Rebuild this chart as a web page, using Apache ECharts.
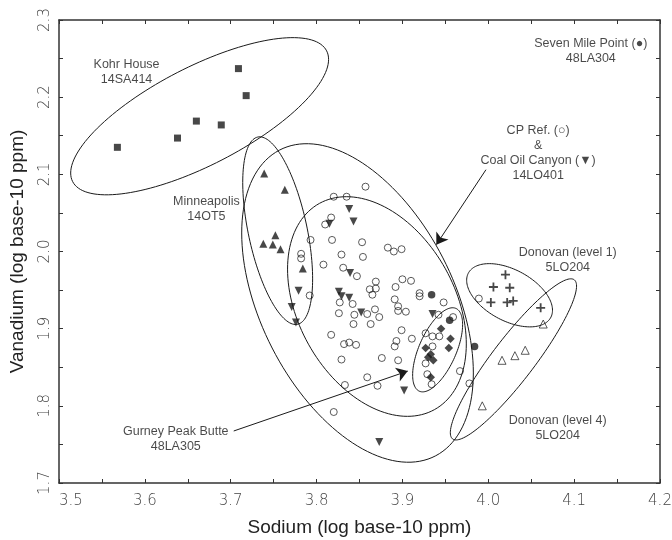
<!DOCTYPE html>
<html><head><meta charset="utf-8">
<script src="https://cdn.jsdelivr.net/npm/echarts@6/dist/echarts.min.js"></script>
<style>html,body{margin:0;padding:0;background:#fff}#c{width:672px;height:540px}</style>
</head><body><div id="c"></div>
<script>
// ---- data (log base-10 ppm) ----
const kohrHouse = [[3.568,2.135],[3.638,2.147],[3.660,2.169],[3.689,2.164],[3.709,2.237],[3.718,2.202]];
const minneapolis = [[3.739,2.101],[3.763,2.080],[3.752,2.021],[3.738,2.010],[3.749,2.009],[3.758,2.003],[3.784,1.978]];
const coalOilCanyon = [[3.838,2.055],[3.843,2.039],[3.815,2.036],[3.839,1.972],[3.779,1.949],[3.826,1.948],[3.829,1.942],[3.838,1.940],[3.771,1.928],[3.776,1.908],[3.852,1.921],[3.935,1.919],[3.902,1.820],[3.873,1.753]];
const cpRef = [[3.857,2.084],[3.820,2.071],[3.835,2.071],[3.817,2.044],[3.810,2.035],[3.793,2.015],[3.818,2.015],[3.853,2.012],[3.883,2.005],[3.890,2.000],[3.899,2.003],[3.829,1.996],[3.854,1.993],[3.782,1.997],[3.782,1.991],[3.808,1.983],[3.831,1.979],[3.847,1.968],[3.869,1.961],[3.900,1.964],[3.910,1.962],[3.892,1.954],[3.862,1.951],[3.869,1.952],[3.865,1.944],[3.792,1.943],[3.920,1.946],[3.920,1.942],[3.891,1.938],[3.827,1.934],[3.842,1.932],[3.895,1.929],[3.895,1.923],[3.904,1.922],[3.868,1.925],[3.826,1.920],[3.844,1.918],[3.859,1.919],[3.873,1.915],[3.948,1.934],[3.942,1.918],[3.843,1.906],[3.863,1.906],[3.899,1.898],[3.817,1.892],[3.927,1.894],[3.935,1.890],[3.943,1.890],[3.911,1.887],[3.832,1.880],[3.838,1.882],[3.846,1.879],[3.893,1.884],[3.891,1.877],[3.935,1.877],[3.829,1.860],[3.876,1.862],[3.895,1.859],[3.927,1.855],[3.967,1.845],[3.859,1.837],[3.833,1.827],[3.871,1.826],[3.929,1.841],[3.934,1.828],[3.978,1.829],[3.820,1.792],[3.989,1.939],[3.959,1.915]];
const sevenMilePoint = [[3.934,1.944],[3.955,1.911],[3.984,1.877]];
const gurneyPeakButte = [[3.945,1.900],[3.956,1.887],[3.954,1.875],[3.927,1.875],[3.933,1.867],[3.936,1.859],[3.930,1.863],[3.933,1.837]];
const donovanLevel1 = [[4.020,1.970],[4.006,1.954],[4.025,1.953],[4.003,1.934],[4.022,1.934],[4.029,1.936],[4.061,1.927]];
const donovanLevel4 = [[4.064,1.906],[4.043,1.872],[4.031,1.865],[4.016,1.859],[3.993,1.800]];

// group ellipses: centre x, centre y, conjugate half-axis vectors (a, b) in data units
const ellipses = [
  [3.6638,2.1753, 0.1502,0.0736, 0,-0.0704],   // Kohr House
  [3.7547,2.0270, 0.0407,-0.0625, 0,-0.1043],  // Minneapolis
  [3.8477,1.9333, 0.1349,-0.0907, 0,-0.1854],  // CP Ref + Coal Oil Canyon (outer)
  [3.8703,1.9287, 0.1041,-0.0485, 0,-0.1338],  // CP Ref (inner)
  [3.9410,1.8726, 0.0291,0.0327, 0,-0.0436],   // Gurney Peak Butte
  [4.0248,1.9433, 0.0500,-0.0194, 0,-0.0361],  // Donovan level 1
  [4.0293,1.8602, 0.0735,0.0950, 0,-0.0433]    // Donovan level 4
];

const annotations = [
  {name:'Kohr House\n14SA414', value:[3.5787,2.2321]},
  {name:'Minneapolis\n14OT5', value:[3.6717,2.0546]},
  {name:'Seven Mile Point (\u25CF)\n48LA304', value:[4.1194,2.2595]},
  {name:'CP Ref. (\u25CB)\n&\nCoal Oil Canyon (\u25BC)\n14LO401', value:[4.0581,2.1280]},
  {name:'Donovan (level 1)\n5LO204', value:[4.0926,1.9891]},
  {name:'Donovan (level 4)\n5LO204', value:[4.0808,1.7710]},
  {name:'Gurney Peak Butte\n48LA305', value:[3.6360,1.7573]}
];

const arrows = [
  [[3.9973,2.1060],[3.9395,2.0089]],
  [[3.7035,1.7674],[3.9062,1.8450]]
];

const xTicks = {min:3.5, max:4.2, step:0.1};
const yTicks = {min:1.7, max:2.3, step:0.1};

// ---- chart ----
const ink = '#1a1a1a';
const axisCommon = {
  type:'value',
  splitLine:{show:false},
  axisLine:{show:true, onZero:false, lineStyle:{color:'#333', width:1.5}},
  axisTick:{show:true, inside:true, length:4, lineStyle:{color:'#333', width:1}},
  minorTick:{show:true, splitNumber:2, length:4, lineStyle:{color:'#333', width:1}},
  minorSplitLine:{show:false}
};
const lbl = {fontFamily:'DejaVu Sans', fontSize:15, color:'#444', fontWeight:'lighter'};

const chart = echarts.init(document.getElementById('c'), null, {renderer:'canvas'});
chart.setOption({
  animation:false,
  backgroundColor:'#fff',
  grid:{left:59, right:12, top:20, bottom:57, containLabel:false, outerBoundsMode:'none'},
  xAxis:[
    Object.assign({}, axisCommon, {position:'bottom', min:xTicks.min, max:xTicks.max, interval:xTicks.step,
      name:'Sodium (log base-10 ppm)', nameLocation:'middle', nameGap:35,
      nameTextStyle:{fontFamily:'Liberation Sans', fontSize:19, color:'#222'},
      axisLabel:Object.assign({show:true, margin:11, formatter:v=>v.toFixed(1), showMinLabel:true, showMaxLabel:true, alignMinLabel:'left'}, lbl)}),
    Object.assign({}, axisCommon, {position:'top', min:xTicks.min, max:xTicks.max, interval:xTicks.step, axisLabel:{show:false}})
  ],
  yAxis:[
    Object.assign({}, axisCommon, {position:'left', min:yTicks.min, max:yTicks.max, interval:yTicks.step,
      name:'Vanadium (log base-10 ppm)', nameLocation:'middle', nameGap:32, nameRotate:90,
      nameTextStyle:{fontFamily:'Liberation Sans', fontSize:19, color:'#222'},
      axisLabel:Object.assign({show:true, margin:6, rotate:90, formatter:v=>v.toFixed(1), showMinLabel:true, showMaxLabel:true}, lbl)}),
    Object.assign({}, axisCommon, {position:'right', min:yTicks.min, max:yTicks.max, interval:yTicks.step, axisLabel:{show:false}})
  ],
  series:[
    {
      type:'custom', name:'ellipses', data:ellipses, silent:true, z:1,
      encode:{x:0, y:1},
      renderItem:function(params, api){
        const cx=api.value(0), cy=api.value(1), ax=api.value(2), ay=api.value(3), bx=api.value(4), by=api.value(5);
        const pts=[];
        for(let i=0;i<=144;i++){
          const t=i/144*Math.PI*2;
          pts.push(api.coord([cx+ax*Math.cos(t)+bx*Math.sin(t), cy+ay*Math.cos(t)+by*Math.sin(t)]));
        }
        return {type:'polygon', shape:{points:pts}, style:{fill:'none', stroke:ink, lineWidth:1}};
      }
    },
    {type:'scatter', name:'Kohr House', data:kohrHouse, symbol:'rect', symbolSize:7, itemStyle:{color:ink}, z:3},
    {type:'scatter', name:'Minneapolis', data:minneapolis, symbol:'triangle', symbolSize:8, itemStyle:{color:ink}, z:3},
    {type:'scatter', name:'CP Ref.', data:cpRef, symbol:'circle', symbolSize:7,
      itemStyle:{color:'transparent', borderColor:ink, borderWidth:0.9}, z:3,
      markLine:{silent:true, symbol:['none','arrow'], symbolSize:11, label:{show:false},
        lineStyle:{color:ink, width:1, type:'solid'}, emphasis:{disabled:true},
        data:arrows.map(a=>[{coord:a[0]},{coord:a[1]}])}},
    {type:'scatter', name:'Coal Oil Canyon', data:coalOilCanyon, symbol:'triangle', symbolRotate:180, symbolSize:8, itemStyle:{color:ink}, z:4},
    {type:'scatter', name:'Seven Mile Point', data:sevenMilePoint, symbol:'circle', symbolSize:7.5, itemStyle:{color:ink}, z:4},
    {type:'scatter', name:'Gurney Peak Butte', data:gurneyPeakButte, symbol:'diamond', symbolSize:8.5, itemStyle:{color:ink}, z:4},
    {type:'scatter', name:'Donovan (level 1)', data:donovanLevel1, symbol:'path://M4,0H6V4H10V6H6V10H4V6H0V4H4Z', symbolSize:9, itemStyle:{color:ink}, z:4},
    {type:'scatter', name:'Donovan (level 4)', data:donovanLevel4, symbol:'triangle', symbolSize:8,
      itemStyle:{color:'transparent', borderColor:ink, borderWidth:0.9}, z:4},
    {type:'scatter', name:'labels', data:annotations, symbolSize:1, itemStyle:{color:'rgba(0,0,0,0)'}, z:5, silent:true,
      label:{show:true, position:'inside', formatter:p=>p.name, fontFamily:'Liberation Sans', fontSize:12.5,
        lineHeight:15, color:'#1a1a1a', align:'center', verticalAlign:'middle'}}
  ]
});
</script>
</body></html>
